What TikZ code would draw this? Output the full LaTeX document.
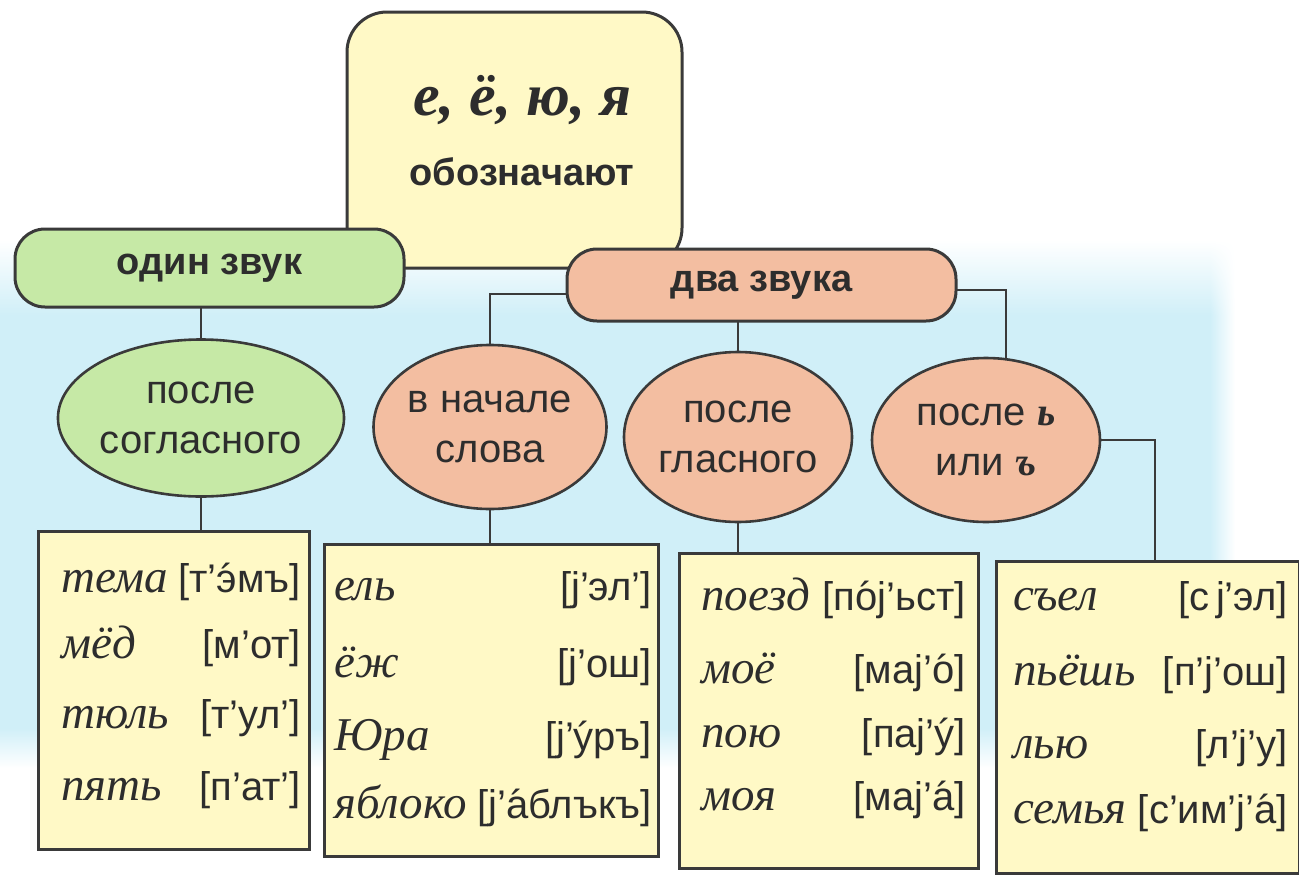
\documentclass[tikz,border=0pt]{standalone}
\usepackage{fontspec}
\setmainfont{Liberation Serif}
\setsansfont{Liberation Sans}
\usepackage{tikz}
\usetikzlibrary{shapes.geometric,shadings}
\definecolor{figline}{RGB}{58,58,58}
\definecolor{figtext}{RGB}{45,45,45}
\definecolor{figyel}{RGB}{255,249,198}
\definecolor{figgrn}{RGB}{198,233,166}
\definecolor{figsal}{RGB}{243,190,161}
\definecolor{figbg}{RGB}{208,239,248}
\newcommand{\stress}[1]{{\accent"00B4 #1}}
\pgfdeclarelayer{back}
\pgfdeclarelayer{wire}
\pgfsetlayers{back,wire,main}
\tikzset{
  ln/.style   ={draw=figline, line width=2.6pt},
  ybox/.style ={draw=figline, line width=3pt, fill=figyel, rounded corners=40pt,
                minimum width=335pt, minimum height=256pt, inner sep=0pt},
  pill/.style ={draw=figline, line width=3pt, rounded corners=30pt, inner sep=0pt,
                minimum width=389pt, text=figtext,
                font=\sffamily\bfseries\fontsize{38}{40}\selectfont},
  oval/.style ={ellipse, draw=figline, line width=2.6pt, inner sep=0pt, align=center,
                text=figtext, font=\sffamily\fontsize{40}{50}\selectfont},
  tbl/.style  ={draw=figline, line width=3pt, fill=figyel, inner sep=0pt, anchor=north west},
  wd/.style   ={font=\itshape\fontsize{47}{47}\selectfont, text=figtext,
                anchor=base west, inner sep=0pt},
  tr/.style   ={font=\sffamily\fontsize{40}{40}\selectfont, text=figtext,
                anchor=base east, inner sep=0pt},
}
\begin{document}
\begin{tikzpicture}[x=1pt,y=-1pt]
  \useasboundingbox (0,0) rectangle (1299,876);
  \begin{pgfonlayer}{back}
  \fill[white] (0,0) rectangle (1299,876);
  \shade[top color=white, bottom color=figbg] (0,240) rectangle (1210,315);
  \fill[figbg] (0,315) rectangle (1210,728);
  \shade[top color=figbg, bottom color=white] (0,728) rectangle (1210,768);
  \shade[left color=figbg, right color=white] (1210,315) rectangle (1235,728);
  \shade[upper left=white, upper right=white, lower left=figbg, lower right=white] (1210,240) rectangle (1235,315);
  \shade[upper left=figbg, upper right=white, lower left=white, lower right=white] (1210,728) rectangle (1235,768);
  \end{pgfonlayer}
  % top box
  \node[ybox] (top) at (514.5,140) {};
  \node[font=\bfseries\itshape\fontsize{60}{60}\selectfont, text=figtext, anchor=base, inner sep=0pt] (lett) at (522,115) {е, ё, ю, я};
  \node[font=\sffamily\bfseries\fontsize{38}{38}\selectfont, text=figtext, anchor=base, inner sep=0pt] (obozn) at (522,185) {обозначают};
  % one sound / two sounds
  \node[pill, fill=figgrn, minimum height=78pt] (odin) at (209.5,268) {один звук};
  \node[pill, fill=figsal, minimum height=72pt] (dva) at (761.5,285) {два звука};
  % cases
  \node[oval, fill=figgrn, minimum width=282pt, minimum height=157pt] (e1) at (201,418) {после\\согласного};
  \node[oval, fill=figsal, minimum width=233pt, minimum height=164pt] (e2) at (490,427) {в начале\\слова};
  \node[oval, fill=figsal, minimum width=228pt, minimum height=170pt] (e3) at (738,437) {после\\гласного};
  \node[oval, fill=figsal, minimum width=228pt, minimum height=164pt] (e4) at (986,440) {после {\rmfamily\bfseries\itshape ь}\\или {\rmfamily\bfseries\itshape ъ}};
  % tables
  \node[tbl, minimum width=271pt, minimum height=318pt] (b1) at (37,530) {};
  \node[tbl, minimum width=334pt, minimum height=312pt] (b2) at (323,543) {};
  \node[tbl, minimum width=299pt, minimum height=315pt] (b3) at (678,552) {};
  \node[tbl, minimum width=303pt, minimum height=312pt] (b4) at (995,560) {};
  % connectors
  \begin{pgfonlayer}{wire}
  \draw[ln] (odin.center) -- (odin.center -| dva.center);
  \draw[ln] ([yshift=-9pt]dva.center) -| (e2.center);
  \draw[ln] (odin.center -| e1.center) -- (e1.center);
  \draw[ln] (dva.center -| e3.center) -- (e3.center);
  \draw[ln] ([yshift=-5pt]dva.center) -| ([xshift=20pt]e4.center);
  \draw[ln] (e1.center) -- (e1.center |- b1.center);
  \draw[ln] (e2.center) -- (e2.center |- b2.center);
  \draw[ln] (e3.center) -- (e3.center |- b3.center);
  \draw[ln] (e4.center) -| ([xshift=7pt]b4.center);
  \end{pgfonlayer}
  % after a consonant
  \node[wd] (w11) at (61,592) {тема};
  \node[tr] (t11) at (301,592) {[т’\stress{э}мъ]};
  \node[wd] (w12) at (61,658) {мёд};
  \node[tr] (t12) at (301,658) {[м’от]};
  \node[wd] (w13) at (61,728) {тюль};
  \node[tr] (t13) at (301,728) {[т’ул’]};
  \node[wd] (w14) at (61,800) {пять};
  \node[tr] (t14) at (301,800) {[п’ат’]};
  % word start
  \node[wd] (w21) at (334,600) {ель};
  \node[tr] (t21) at (652,600) {[j’эл’]};
  \node[wd] (w22) at (334,677) {ёж};
  \node[tr] (t22) at (652,677) {[j’ош]};
  \node[wd] (w23) at (334,750) {Юра};
  \node[tr] (t23) at (652,750) {[j’\stress{у}ръ]};
  \node[wd] (w24) at (334,818) {яблоко};
  \node[tr] (t24) at (652,818) {[j’\stress{а}блъкъ]};
  % after a vowel
  \node[wd] (w31) at (701,610) {поезд};
  \node[tr] (t31) at (966,610) {[п\stress{о}j’ьст]};
  \node[wd] (w32) at (701,683) {моё};
  \node[tr] (t32) at (966,683) {[маj’\stress{о}]};
  \node[wd] (w33) at (701,747) {пою};
  \node[tr] (t33) at (966,747) {[паj’\stress{у}]};
  \node[wd] (w34) at (701,810) {моя};
  \node[tr] (t34) at (966,810) {[маj’\stress{а}]};
  % after soft / hard sign
  \node[wd] (w41) at (1013,610) {съел};
  \node[tr] (t41) at (1288,610) {[с\,j’эл]};
  \node[wd] (w42) at (1013,685) {пьёшь};
  \node[tr] (t42) at (1288,685) {[п’j’ош]};
  \node[wd] (w43) at (1013,758) {лью};
  \node[tr] (t43) at (1288,758) {[л’j’у]};
  \node[wd] (w44) at (1013,823) {семья};
  \node[tr] (t44) at (1288,823) {[с’им’j’\stress{а}]};
\end{tikzpicture}
\end{document}
